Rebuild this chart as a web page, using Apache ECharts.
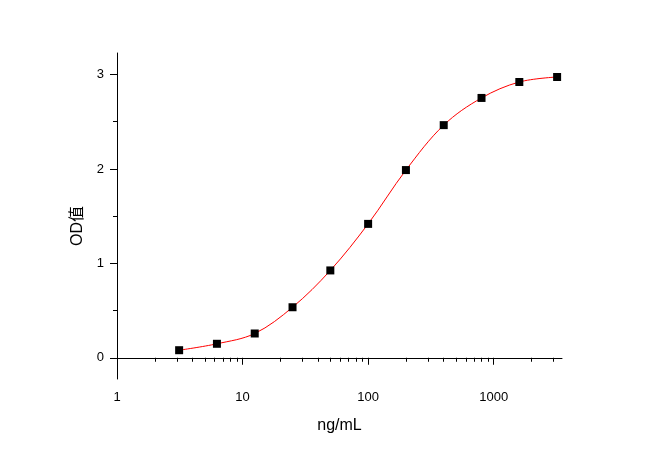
<!DOCTYPE html>
<html>
<head>
<meta charset="utf-8">
<script src="https://cdn.jsdelivr.net/npm/echarts@6/dist/echarts.min.js"></script>
<style>
  html, body { margin: 0; padding: 0; background: #fff; }
  #chart { width: 656px; height: 458px; }
</style>
</head>
<body>
<div id="chart"></div>
<script>
// 浓度 (ng/mL) 与 OD 值
var conc = [3.125, 6.25, 12.5, 25, 50, 100, 200, 400, 800, 1600, 3200]
var od = [0.08, 0.148, 0.257, 0.535, 0.925, 1.418, 1.988, 2.464, 2.752, 2.921, 2.974]

// 刻度
var xMajorTicks = [1, 10, 100, 1000]
var xMinorTicks = [2, 3, 4, 5, 6, 7, 8, 9, 20, 30, 40, 50, 60, 70, 80, 90,
  200, 300, 400, 500, 600, 700, 800, 900, 2000, 3000]
var yMajorTicks = [0, 1, 2, 3]
var yMinorTicks = [0.5, 1.5, 2.5]

var font = "'Liberation Sans', Arial, 'Noto Sans CJK SC', sans-serif"
var xRange = [1, 3500]
var yRange = [-0.225, 3.228]

var points = conc.map(function (c, i) { return [c, od[i]] })

var chart = echarts.init(document.getElementById('chart'))

var option = {
  backgroundColor: '#fff',
  animation: false,
  textStyle: { fontFamily: font },
  grid: {
    left: 117,
    right: 94,
    top: 53,
    bottom: 79,
    outerBoundsMode: 'none'
  },
  xAxis: [
    {
      type: 'log',
      logBase: 10,
      min: xRange[0],
      max: xRange[1],
      name: 'ng/mL',
      nameLocation: 'middle',
      nameGap: 39,
      nameTextStyle: { fontSize: 16, color: '#000', fontFamily: font },
      axisLine: { show: true, lineStyle: { color: '#000', width: 1 } },
      axisTick: { show: true, length: 7, lineStyle: { color: '#000' }, customValues: xMajorTicks },
      axisLabel: {
        color: '#000',
        fontSize: 13,
        margin: 12,
        customValues: xMajorTicks,
        formatter: function (v) { return String(v) }
      },
      splitLine: { show: false }
    },
    {
      // 次刻度
      type: 'log',
      logBase: 10,
      position: 'bottom',
      min: xRange[0],
      max: xRange[1],
      axisLine: { show: false },
      axisTick: { show: true, length: 4, lineStyle: { color: '#000' }, customValues: xMinorTicks },
      axisLabel: { show: false },
      splitLine: { show: false }
    }
  ],
  yAxis: [
    {
      type: 'value',
      min: yRange[0],
      max: yRange[1],
      name: 'OD值',
      nameLocation: 'middle',
      nameGap: 30,
      nameTextStyle: { fontSize: 16, color: '#000', fontFamily: font, padding: [0, 20, 0, 0] },
      axisLine: { show: true, lineStyle: { color: '#000', width: 1 } },
      axisTick: { show: true, length: 7, lineStyle: { color: '#000' }, customValues: yMajorTicks },
      axisLabel: { color: '#000', fontSize: 13, margin: 13, customValues: yMajorTicks },
      splitLine: { show: false }
    },
    {
      type: 'value',
      position: 'left',
      min: yRange[0],
      max: yRange[1],
      axisLine: { show: false },
      axisTick: { show: true, length: 4, lineStyle: { color: '#000' }, customValues: yMinorTicks },
      axisLabel: { show: false },
      splitLine: { show: false }
    }
  ],
  series: [
    {
      name: 'fit',
      type: 'line',
      data: points,
      smooth: 0.35,
      showSymbol: false,
      lineStyle: { color: '#ff0000', width: 1 },
      z: 2
    },
    {
      name: 'OD',
      type: 'scatter',
      data: points,
      symbol: 'rect',
      symbolSize: 8,
      itemStyle: { color: '#000', opacity: 1 },
      z: 3
    }
  ]
}

chart.setOption(option)
</script>
</body>
</html>
